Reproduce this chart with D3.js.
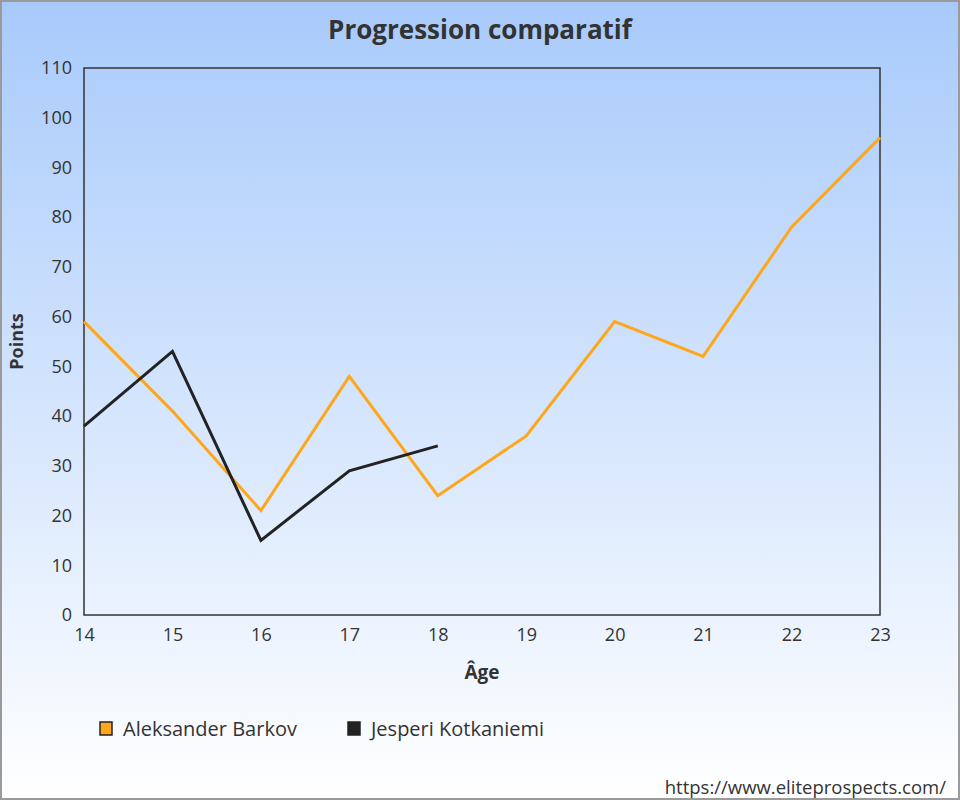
<!DOCTYPE html>
<html>
<head>
<meta charset="utf-8">
<script src="https://cdn.jsdelivr.net/npm/d3@7"></script>
<style>
html,body{margin:0;padding:0;background:#fff;}
svg{display:block;font-family:"Open Sans",sans-serif;}
</style>
</head>
<body>
<svg id="chart" width="960" height="800"></svg>
<script>
const ages = [14, 15, 16, 17, 18, 19, 20, 21, 22, 23];
const barkovPoints = [59, 41, 21, 48, 24, 36, 59, 52, 78, 96];
const kotkaniemiPoints = [38, 53, 15, 29, 34];
const yTicks = [0, 10, 20, 30, 40, 50, 60, 70, 80, 90, 100, 110];
const seriesNames = ["Aleksander Barkov", "Jesperi Kotkaniemi"];
const seriesColors = ["#ffa71a", "#222222"];

const svg = d3.select("#chart");
const W = 960, H = 800;
const m = {left: 84, right: 80, top: 68, bottom: 185};

const defs = svg.append("defs");
const grad = defs.append("linearGradient").attr("id", "bg").attr("x1", 0).attr("y1", 0).attr("x2", 0).attr("y2", 1);
grad.append("stop").attr("offset", "0%").attr("stop-color", "#a8cafb");
grad.append("stop").attr("offset", "100%").attr("stop-color", "#ffffff");

svg.append("rect").attr("x", 1).attr("y", 1).attr("width", W - 2).attr("height", H - 2)
  .attr("fill", "url(#bg)").attr("stroke", "#9a9a9a").attr("stroke-width", 2);

svg.append("text").attr("x", W / 2).attr("y", 39).attr("text-anchor", "middle")
  .attr("font-size", 26).attr("font-weight", "bold").attr("fill", "#333")
  .text("Progression comparatif");

const x = d3.scaleLinear().domain([14, 23]).range([m.left, W - m.right]);
const y = d3.scaleLinear().domain([0, 110]).range([H - m.bottom, m.top]);

svg.append("rect").attr("x", m.left).attr("y", m.top)
  .attr("width", W - m.right - m.left).attr("height", H - m.bottom - m.top)
  .attr("fill", "none").attr("stroke", "#333").attr("stroke-width", 1.5);

const xAxis = svg.append("g").attr("transform", `translate(0,${H - m.bottom})`)
  .call(d3.axisBottom(x).tickValues(ages).tickSize(0).tickPadding(13).tickFormat(d3.format("d")));
xAxis.select(".domain").remove();
xAxis.selectAll("text").attr("font-size", 18).attr("fill", "#333").attr("font-family", "Open Sans, sans-serif");

const yAxis = svg.append("g").attr("transform", `translate(${m.left},0)`)
  .call(d3.axisLeft(y).tickValues(yTicks).tickSize(0).tickPadding(12));
yAxis.select(".domain").remove();
yAxis.selectAll("text").attr("font-size", 18).attr("fill", "#333").attr("font-family", "Open Sans, sans-serif");

svg.append("text").attr("x", (m.left + W - m.right) / 2).attr("y", 679).attr("text-anchor", "middle")
  .attr("font-size", 19).attr("font-weight", "bold").attr("fill", "#333").text("Âge");
svg.append("text").attr("transform", `translate(23,${(m.top + H - m.bottom) / 2}) rotate(-90)`)
  .attr("text-anchor", "middle").attr("font-size", 18).attr("font-weight", "bold").attr("fill", "#333").text("Points");

const line = d3.line().x(d => x(d[0])).y(d => y(d[1]));
const series = [barkovPoints, kotkaniemiPoints];
series.forEach((vals, i) => {
  svg.append("path").datum(vals.map((v, j) => [ages[j], v]))
    .attr("d", line).attr("fill", "none").attr("stroke", seriesColors[i])
    .attr("stroke-width", 3).attr("stroke-linejoin", "miter");
});

const legendX = [100, 348];
seriesNames.forEach((name, i) => {
  svg.append("rect").attr("x", legendX[i]).attr("y", 722).attr("width", 12).attr("height", 13)
    .attr("fill", seriesColors[i]).attr("stroke", "#222").attr("stroke-width", 1.5);
  svg.append("text").attr("x", legendX[i] + 23).attr("y", 736).attr("font-size", 20).attr("fill", "#333").text(name);
});

svg.append("text").attr("x", 946).attr("y", 794).attr("text-anchor", "end")
  .attr("font-size", 18.5).attr("fill", "#333").text("https://www.eliteprospects.com/");
</script>
</body>
</html>
